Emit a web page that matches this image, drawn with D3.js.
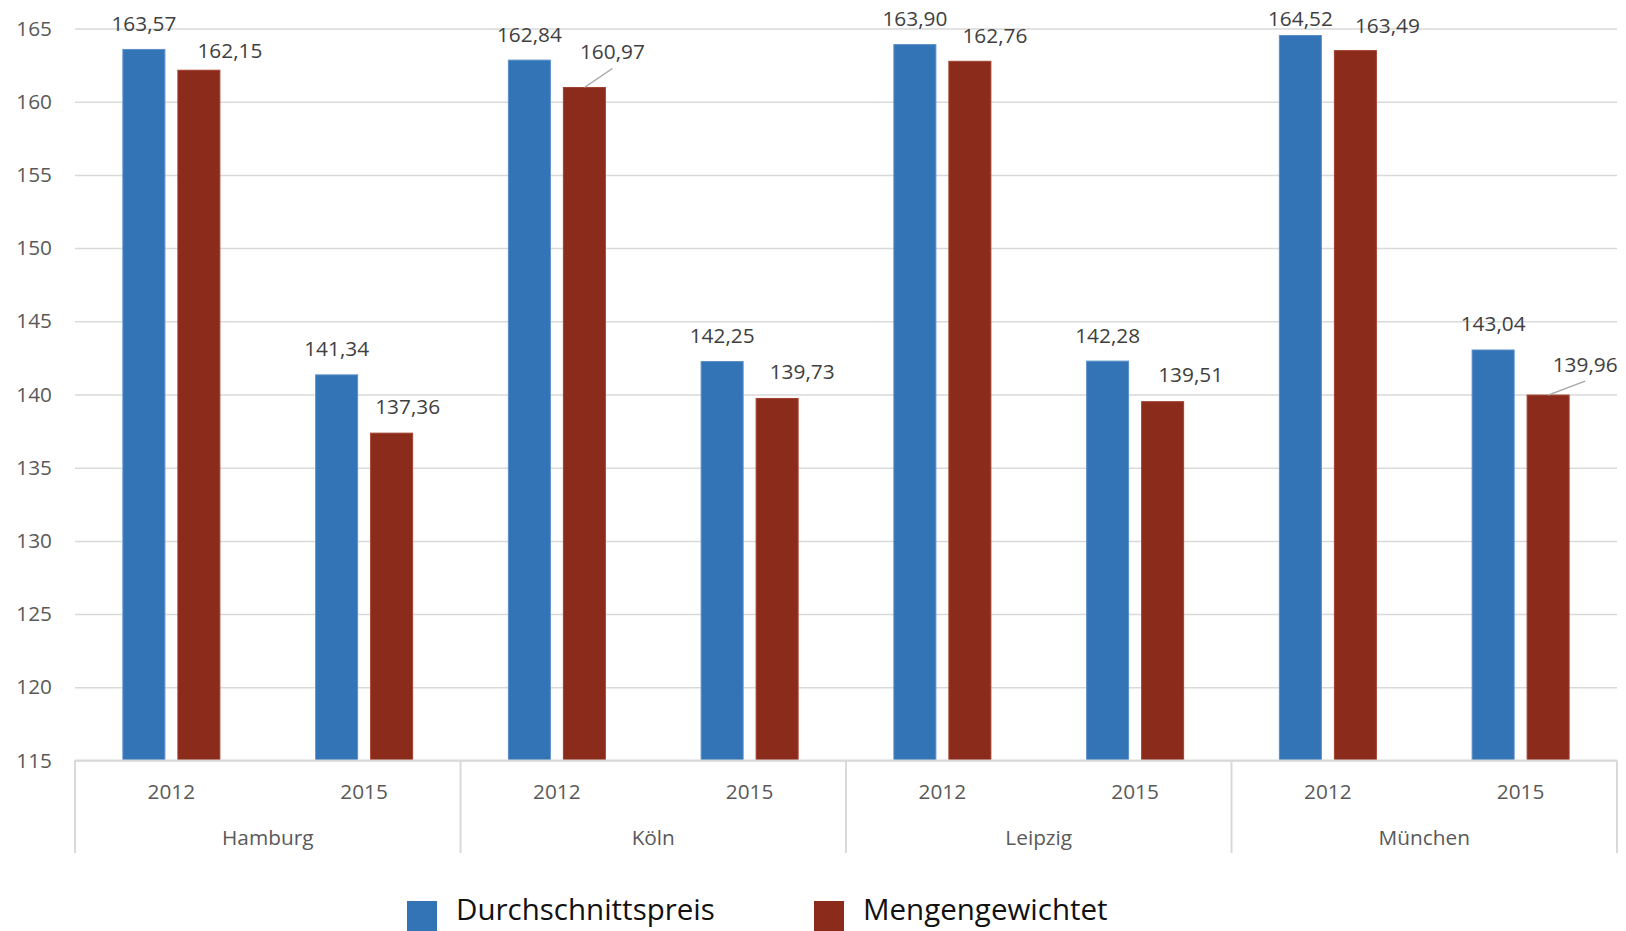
<!DOCTYPE html>
<html lang="de">
<head>
<meta charset="utf-8">
<title>Durchschnittspreis und mengengewichteter Preis</title>
<script src="https://cdn.jsdelivr.net/npm/d3@7"></script>
<style>
  html, body { margin: 0; padding: 0; background: #ffffff; }
  svg { display: block; font-family: "Open Sans", "Noto Sans", sans-serif; }
</style>
</head>
<body>
<svg id="chart" width="1626" height="931"></svg>
<script>
// Data
const cities = ["Hamburg", "Köln", "Leipzig", "München"];
const years = ["2012", "2015"];
const seriesNames = ["Durchschnittspreis", "Mengengewichtet"];
// values per city, ordered [2012, 2015]
const durchschnittspreis = [[163.57, 141.34], [162.84, 142.25], [163.90, 142.28], [164.52, 143.04]];
const mengengewichtet   = [[162.15, 137.36], [160.97, 139.73], [162.76, 139.51], [163.49, 139.96]];
const yTicks = [115, 120, 125, 130, 135, 140, 145, 150, 155, 160, 165];

// Label placement for the second series (dx, dy from bar top, leader line)
const redLabelLayout = [
  [31, -12, false], [16, -19, false],
  [28, -28, true],  [25, -19, false],
  [25, -18.6, false], [28, -19.6, false],
  [32, -18, false], [37, -23, true]
];

const colors = { Durchschnittspreis: "#3274b5", Mengengewichtet: "#8b2b1b" };
const strokes = { Durchschnittspreis: "#5b8fc9", Mengengewichtet: "#a3402e" };

const svg = d3.select("#chart");
const plot = { left: 75, right: 1617, top: 28.5, bottom: 760.5 };
const fontPx = "20.8px";

const fmt = v => v.toFixed(2).replace(".", ",");

const y = d3.scaleLinear().domain([115, 165]).range([plot.bottom, plot.top]);
const xCity = d3.scaleBand().domain(cities).range([plot.left, plot.right]).padding(0);
const xYear = d3.scaleBand().domain(years).range([0, xCity.bandwidth()]).padding(0);
const xSeries = d3.scaleBand().domain(seriesNames).range([0, 98]).paddingInner(12 / 55).paddingOuter(0);
const seriesOffset = xYear.bandwidth() / 2 - 49;

// Gridlines
const grid = svg.append("g")
  .attr("transform", `translate(${plot.left},0)`)
  .call(d3.axisLeft(y).tickValues(yTicks).tickSize(-(plot.right - plot.left)).tickFormat(""));
grid.select(".domain").remove();
grid.selectAll(".tick line").attr("stroke", "#d9d9d9").attr("stroke-width", 1.5);

// Y axis labels
const yAxis = svg.append("g")
  .attr("transform", `translate(${plot.left},0)`)
  .call(d3.axisLeft(y).tickValues(yTicks).tickSize(0).tickPadding(23).tickFormat(d3.format("d")));
yAxis.select(".domain").remove();
yAxis.selectAll("text")
  .attr("fill", "#595959")
  .style("font-size", fontPx)
  .style("font-family", "'Open Sans', sans-serif");

// Flatten into bar records
const records = [];
cities.forEach((c, ci) => {
  years.forEach((yr, yi) => {
    records.push({ city: c, year: yr, series: "Durchschnittspreis", value: durchschnittspreis[ci][yi], idx: ci * 2 + yi });
    records.push({ city: c, year: yr, series: "Mengengewichtet", value: mengengewichtet[ci][yi], idx: ci * 2 + yi });
  });
});
const barX = d => xCity(d.city) + xYear(d.year) + seriesOffset + xSeries(d.series);
const barCX = d => barX(d) + xSeries.bandwidth() / 2;

// Bars
svg.append("g").selectAll("rect")
  .data(records)
  .join("rect")
  .attr("x", d => barX(d) + 0.5)
  .attr("y", d => y(d.value))
  .attr("width", xSeries.bandwidth() - 1)
  .attr("height", d => y(115) - y(d.value))
  .attr("fill", d => colors[d.series])
  .attr("stroke", d => strokes[d.series])
  .attr("stroke-width", 1);

// Category axis: baseline and group separators
const axisG = svg.append("g");
axisG.append("line")
  .attr("x1", plot.left).attr("x2", plot.right)
  .attr("y1", y(115)).attr("y2", y(115))
  .attr("stroke", "#d9d9d9").attr("stroke-width", 2);
const sepXs = cities.map(c => xCity(c)).concat([xCity(cities[cities.length - 1]) + xCity.bandwidth()]);
axisG.selectAll("line.sep")
  .data(sepXs)
  .join("line")
  .attr("class", "sep")
  .attr("x1", d => d).attr("x2", d => d)
  .attr("y1", y(115)).attr("y2", 853)
  .attr("stroke", "#d9d9d9").attr("stroke-width", 2);

// Year labels
const yearLabels = [];
cities.forEach(c => years.forEach(yr => yearLabels.push({ city: c, year: yr })));
axisG.selectAll("text.year")
  .data(yearLabels)
  .join("text")
  .attr("class", "year")
  .attr("x", d => xCity(d.city) + xYear(d.year) + xYear.bandwidth() / 2)
  .attr("y", 799)
  .attr("text-anchor", "middle")
  .attr("fill", "#595959")
  .style("font-size", fontPx)
  .text(d => d.year);

// City labels
axisG.selectAll("text.city")
  .data(cities)
  .join("text")
  .attr("class", "city")
  .attr("x", d => xCity(d) + xCity.bandwidth() / 2)
  .attr("y", 845)
  .attr("text-anchor", "middle")
  .attr("fill", "#595959")
  .style("font-size", fontPx)
  .text(d => d);

// Data labels
const labelPos = d => {
  if (d.series === "Durchschnittspreis") {
    return { x: barCX(d), y: Math.max(y(d.value) - 18.5, 26), leader: false };
  }
  const l = redLabelLayout[d.idx];
  return { x: barCX(d) + l[0], y: y(d.value) + l[1], leader: l[2] };
};

const labels = svg.append("g");
labels.selectAll("line.leader")
  .data(records.filter(d => labelPos(d).leader))
  .join("line")
  .attr("class", "leader")
  .attr("x1", d => barCX(d)).attr("y1", d => y(d.value))
  .attr("x2", d => labelPos(d).x).attr("y2", d => labelPos(d).y + 9)
  .attr("stroke", "#a6a6a6").attr("stroke-width", 1.5);

labels.selectAll("text")
  .data(records)
  .join("text")
  .attr("x", d => labelPos(d).x)
  .attr("y", d => labelPos(d).y)
  .attr("text-anchor", "middle")
  .attr("fill", "#404040")
  .style("font-size", fontPx)
  .text(d => fmt(d.value));

// Legend
const legendItems = [
  { name: "Durchschnittspreis", x: 407 },
  { name: "Mengengewichtet", x: 814 }
];
const legend = svg.append("g").selectAll("g")
  .data(legendItems)
  .join("g")
  .attr("transform", d => `translate(${d.x},901)`);
legend.append("rect")
  .attr("width", 30).attr("height", 30)
  .attr("fill", d => colors[d.name]);
legend.append("text")
  .attr("x", 49).attr("y", 18.5)
  .attr("fill", "#111111")
  .style("font-size", "29.5px")
  .text(d => d.name);
</script>
</body>
</html>
